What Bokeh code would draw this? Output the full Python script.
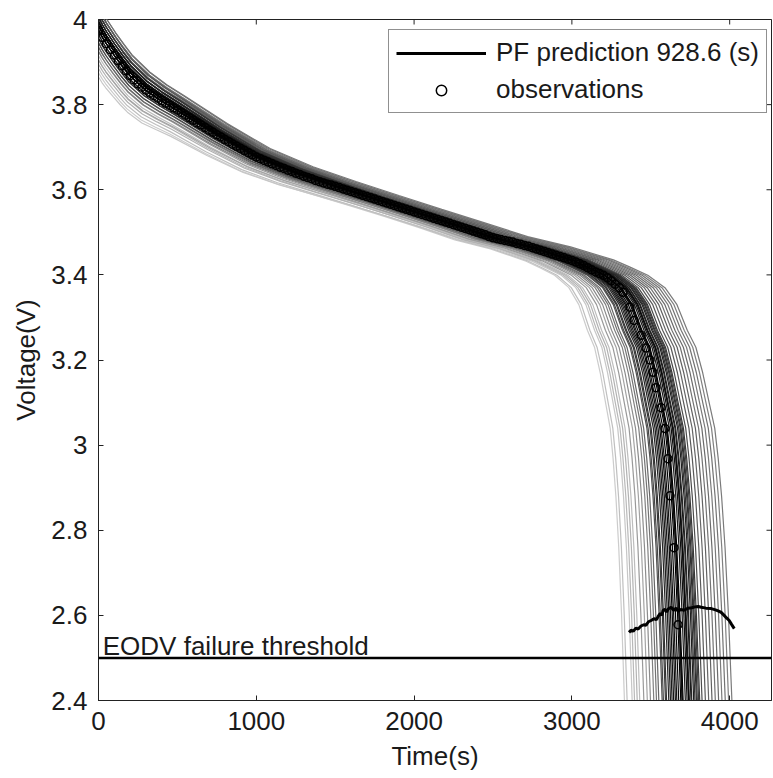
import numpy as np
from bokeh.plotting import figure
from bokeh.models import (Range1d, FixedTicker, Span, Legend, LegendItem,
                          ColumnDataSource, Label)
from bokeh.embed import file_html
from bokeh.resources import INLINE

# ---------------- data ----------------
x_ticks = [0, 1000, 2000, 3000, 4000]
x_tick_labels = ["0", "1000", "2000", "3000", "4000"]
y_ticks = [2.4, 2.6, 2.8, 3.0, 3.2, 3.4, 3.6, 3.8, 4.0]
y_tick_labels = ["2.4", "2.6", "2.8", "3", "3.2", "3.4", "3.6", "3.8", "4"]
x_lim = (0, 4265)
y_lim = (2.4, 4.0)

# observations (time s, voltage V)
obs_time = list(range(0, 3301, 25)) + [3324, 3368, 3394, 3439, 3470, 3495, 3514,
                                       3533, 3565, 3590, 3609, 3622, 3647, 3673]
obs_voltage = [
    3.975, 3.958, 3.943, 3.929, 3.916, 3.903, 3.891, 3.879, 3.868, 3.858, 3.849,
    3.841, 3.834, 3.827, 3.821, 3.815, 3.809, 3.803, 3.798, 3.792, 3.787,
    3.781, 3.775, 3.769, 3.763, 3.757, 3.752, 3.746, 3.740, 3.735, 3.729,
    3.724, 3.718, 3.713, 3.707, 3.702, 3.697, 3.692, 3.687, 3.682, 3.677,
    3.673, 3.669, 3.665, 3.661, 3.657, 3.653, 3.650, 3.646, 3.643, 3.639,
    3.636, 3.632, 3.629, 3.626, 3.622, 3.619, 3.616, 3.613, 3.611, 3.608,
    3.605, 3.602, 3.599, 3.596, 3.593, 3.590, 3.587, 3.584, 3.581, 3.578,
    3.575, 3.572, 3.569, 3.566, 3.563, 3.560, 3.557, 3.554, 3.551, 3.548,
    3.545, 3.542, 3.539, 3.536, 3.533, 3.530, 3.527, 3.524, 3.521, 3.518,
    3.515, 3.512, 3.509, 3.506, 3.503, 3.500, 3.497, 3.494, 3.490, 3.487,
    3.485, 3.483, 3.481, 3.479, 3.477, 3.474, 3.472, 3.469, 3.467, 3.464,
    3.461, 3.458, 3.455, 3.452, 3.449, 3.446, 3.443, 3.440, 3.437, 3.434,
    3.430, 3.426, 3.422, 3.417, 3.412, 3.407, 3.403, 3.399, 3.393, 3.386,
    3.378, 3.370,
    3.359, 3.324, 3.293, 3.258, 3.228, 3.200, 3.171, 3.135, 3.088, 3.039,
    2.968, 2.881, 2.759, 2.578,
]

# PF prediction curve
pf_time = [3362, 3375, 3390, 3405, 3420, 3438, 3455, 3470, 3485, 3502, 3520, 3535,
           3546, 3560, 3570, 3578, 3590, 3600, 3610, 3629, 3645, 3660, 3673, 3690,
           3710, 3737, 3760, 3780, 3800, 3820, 3850, 3883, 3910, 3930, 3946, 3965,
           3980, 3997, 4010, 4029]
pf_voltage = [2.560, 2.565, 2.563, 2.570, 2.568, 2.575, 2.578, 2.577, 2.585, 2.588,
              2.592, 2.590, 2.597, 2.605, 2.600, 2.612, 2.614, 2.608, 2.615, 2.619,
              2.612, 2.617, 2.610, 2.614, 2.612, 2.617, 2.618, 2.620, 2.621, 2.619,
              2.617, 2.616, 2.613, 2.610, 2.607, 2.600, 2.594, 2.588, 2.580, 2.569]

threshold_v = 2.5
threshold_text = "EODV failure threshold"
threshold_text_x = 27
threshold_text_y = 2.528

# particle trajectory template (reaches 2.4 V at 3690 s)
shape_time = [0, 25, 50, 100, 150, 200, 300, 400, 500, 750, 1000, 1250, 1500, 1750,
              2000, 2250, 2500, 2750, 3000, 3100, 3200, 3300, 3370, 3430, 3480, 3520,
              3560, 3590, 3610, 3630, 3650, 3670, 3685, 3690, 3700]
shape_voltage = [3.975, 3.958, 3.943, 3.916, 3.891, 3.868, 3.834, 3.809, 3.787, 3.729,
                 3.677, 3.639, 3.608, 3.578, 3.548, 3.518, 3.487, 3.464, 3.434, 3.417,
                 3.399, 3.370, 3.330, 3.270, 3.230, 3.170, 3.095, 3.040, 2.970, 2.880,
                 2.760, 2.600, 2.450, 2.400, 2.250]
shape_spread = [1.00, 0.97, 0.94, 0.88, 0.83, 0.78, 0.70, 0.62, 0.56, 0.44, 0.33, 0.25,
                0.19, 0.14, 0.10, 0.07, 0.05, 0.03, 0.02, 0.01, 0, 0, 0, 0, 0, 0, 0, 0,
                0, 0, 0, 0, 0, 0, 0]

# particles: end-of-discharge time, start offset, gray level
particle_eod = [3333, 3350, 3382, 3397, 3414, 3430, 3456, 3478, 3498, 3519, 3536, 3551,
                3572, 3580, 3593, 3600, 3614, 3625, 3635, 3645, 3656, 3665, 3677, 3690,
                3698, 3700, 3705, 3719, 3730, 3740, 3740, 3745, 3755, 3760, 3772, 3780,
                3789, 3795, 3803, 3810, 3825, 3846, 3867, 3888, 3909, 3930, 3951, 3972,
                3993, 4014]
particle_offset = [-0.10, -0.09, -0.11, -0.07, -0.08, -0.06, -0.05, -0.07, -0.04, -0.05,
                   -0.03, -0.04, -0.02, -0.03, -0.01, -0.02, 0.00, -0.01, 0.01, 0.00,
                   0.01, 0.02, 0.00, 0.01, 0.02, 0.01, 0.00, 0.02, 0.01, 0.03,
                   0.02, 0.01, 0.02, 0.03, 0.02, 0.04, 0.03, 0.02, 0.04, 0.03,
                   0.04, 0.05, 0.04, 0.05, 0.04, 0.05, 0.05, 0.06, 0.05, 0.06]
particle_gray = [0.80, 0.75, 0.78, 0.72, 0.70, 0.74, 0.60, 0.64, 0.55, 0.50, 0.45, 0.40,
                 0.32, 0.28, 0.22, 0.20, 0.15, 0.12, 0.10, 0.08, 0.05, 0.08, 0.02, 0.00,
                 0.05, 0.08, 0.00, 0.10, 0.06, 0.12, 0.04, 0.15, 0.10, 0.18, 0.12, 0.20,
                 0.18, 0.22, 0.25, 0.22, 0.30, 0.35, 0.40, 0.38, 0.45, 0.42, 0.48, 0.45,
                 0.50, 0.48]

# ---------------- figure ----------------
FONT = "Liberation Sans"
FS = "26px"
TXT = "#1a1a1a"
AX = "#222222"

p = figure(width=773, height=778, x_range=Range1d(*x_lim), y_range=Range1d(*y_lim),
           output_backend="svg", toolbar_location=None,
           min_border_left=98, min_border_right=2, min_border_top=19, min_border_bottom=78)
p.background_fill_color = "white"
p.border_fill_color = "white"
p.outline_line_color = AX
p.outline_line_width = 1
p.grid.visible = False

# particle trajectories
shape_eod = shape_time[shape_voltage.index(2.4)]
order = sorted(range(len(particle_eod)), key=lambda i: -particle_gray[i])
xs, ys, cols = [], [], []
for i in order:
    k = particle_eod[i] / shape_eod
    xs.append([t * k for t in shape_time])
    ys.append([v + particle_offset[i] * s for v, s in zip(shape_voltage, shape_spread)])
    g = int(round(255 * particle_gray[i]))
    cols.append("#%02x%02x%02x" % (g, g, g))
p.multi_line(xs="xs", ys="ys", line_color="c", line_width=1.2,
             source=ColumnDataSource(dict(xs=xs, ys=ys, c=cols)))

obs_r = p.scatter(obs_time, obs_voltage, marker="circle", size=8, line_color="black",
                  line_width=1.5, fill_alpha=0)
pf_r = p.line(pf_time, pf_voltage, line_color="black", line_width=3)

p.add_layout(Span(location=threshold_v, dimension="width", line_color="black",
                  line_width=2.5))
p.add_layout(Label(x=threshold_text_x, y=threshold_text_y, text=threshold_text,
                   text_font=FONT, text_font_size=FS, text_color=TXT,
                   text_baseline="alphabetic"))

# inward ticks on the top and right frame edges (clipped to the frame)
p.scatter(x=x_ticks, y=[y_lim[1]] * len(x_ticks), marker="dash", size=10,
          angle=np.pi / 2, line_color=AX, line_width=1)
p.scatter(x=[x_lim[1]] * len(y_ticks), y=y_ticks, marker="dash", size=10,
          angle=0, line_color=AX, line_width=1)

# axes
for ax in (p.xaxis[0], p.yaxis[0]):
    ax.major_tick_in = 5
    ax.major_tick_out = 0
    ax.minor_tick_line_color = None
    ax.axis_line_color = AX
    ax.major_tick_line_color = AX
    ax.major_label_text_font = FONT
    ax.major_label_text_font_size = FS
    ax.major_label_text_color = TXT
    ax.axis_label_text_font = FONT
    ax.axis_label_text_font_size = FS
    ax.axis_label_text_font_style = "normal"
    ax.axis_label_text_color = TXT
p.xaxis.ticker = FixedTicker(ticks=x_ticks)
p.xaxis.major_label_overrides = dict(zip(x_ticks, x_tick_labels))
p.yaxis.ticker = FixedTicker(ticks=y_ticks)
p.yaxis.major_label_overrides = dict(zip(y_ticks, y_tick_labels))
p.xaxis.axis_label = "Time(s)"
p.yaxis.axis_label = "Voltage(V)"
p.xaxis.major_label_standoff = 11
p.xaxis.axis_label_standoff = 8
p.yaxis.major_label_standoff = 11
p.yaxis.axis_label_standoff = 7

legend = Legend(items=[LegendItem(label="PF prediction 928.6 (s)", renderers=[pf_r]),
                       LegendItem(label="observations", renderers=[obs_r])],
                location=(290, 587), border_line_color=AX, border_line_width=1,
                background_fill_color="white", background_fill_alpha=1,
                label_text_font=FONT, label_text_font_size=FS, label_text_color=TXT,
                glyph_width=90, glyph_height=26, label_height=26, spacing=6,
                padding=7, label_standoff=10, margin=0)
p.add_layout(legend)

open("out.html", "w").write(file_html(p, INLINE))
